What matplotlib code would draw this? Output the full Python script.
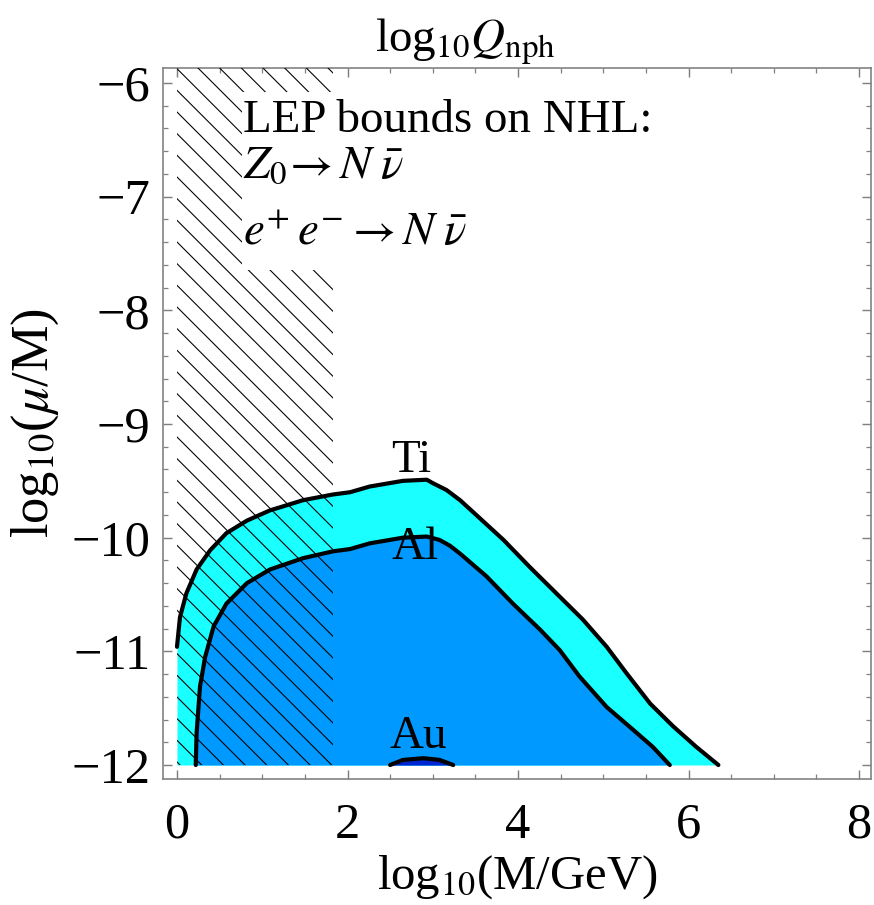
import numpy as np
import matplotlib
matplotlib.use("Agg")
import matplotlib.pyplot as plt
from matplotlib.patches import Rectangle

plt.rcParams['font.family'] = ['Liberation Serif', 'DejaVu Serif']
plt.rcParams['mathtext.fontset'] = 'stix'
plt.rcParams['hatch.linewidth'] = 0.6

# curves: log10(M/GeV) vs log10(mu/M)
ti_x = [0.0, 0.035, 0.11, 0.23, 0.39, 0.58, 0.82, 1.09, 1.48, 1.83, 2.03, 2.26, 2.65, 2.93,
        3.0, 3.16, 3.32, 3.51, 3.83, 4.14, 4.45, 4.76, 5.04, 5.27, 5.55, 5.82, 6.09, 6.35]
ti_y = [-10.96, -10.70, -10.49, -10.28, -10.11, -9.96, -9.85, -9.76, -9.67, -9.62, -9.60, -9.55, -9.50, -9.49,
        -9.52, -9.58, -9.67, -9.80, -10.02, -10.26, -10.49, -10.72, -10.96, -11.19, -11.46, -11.66, -11.84, -12.0]

al_x = [0.22, 0.23, 0.27, 0.33, 0.43, 0.58, 0.82, 1.09, 1.48, 1.83, 2.03, 2.26, 2.65, 2.93,
        3.08, 3.2, 3.32, 3.63, 3.94, 4.26, 4.49, 4.72, 5.04, 5.35, 5.58, 5.78]
al_y = [-12.0, -11.72, -11.31, -11.05, -10.78, -10.58, -10.40, -10.28, -10.18, -10.12, -10.10, -10.05, -10.00, -9.99,
        -10.02, -10.07, -10.14, -10.34, -10.58, -10.81, -10.99, -11.22, -11.49, -11.69, -11.84, -12.0]

au_x = [2.50, 2.65, 2.89, 3.08, 3.24]
au_y = [-12.0, -11.955, -11.94, -11.955, -12.0]

y_floor = -12.0
lep_x_max = 1.83  # LEP excluded region

lep_lines = ["LEP bounds on NHL:",
             "$Z_0\\!\\rightarrow N\\;\\bar{\\nu}$",
             "$e^{+}\\,e^{-}\\rightarrow N\\;\\bar{\\nu}$"]

DPI = 130
fig = plt.figure(figsize=(874 / DPI, 905 / DPI), dpi=DPI)
ax = fig.add_axes([163 / 874, 1 - 779 / 905, (871 - 163) / 874, (779 - 68) / 905])

ax.fill_between(ti_x, ti_y, y_floor, color='#1AFFFF', lw=0, zorder=1)
ax.fill_between(al_x, al_y, y_floor, color='#0099FF', lw=0, zorder=2)
ax.fill_between(au_x, au_y, y_floor, color='#0026D0', lw=0, zorder=3)

ax.fill_between([0, lep_x_max], y_floor, -5.0, facecolor='none', edgecolor='black',
                hatch='\\\\', lw=0, zorder=4)

for xs, ys in [(ti_x, ti_y), (al_x, al_y), (au_x, au_y)]:
    ax.plot(xs, ys, color='black', lw=2.3, zorder=6,
            solid_capstyle='round', solid_joinstyle='round')

# white backing behind the LEP note
ax.add_patch(Rectangle((0.762, -7.646), 1.5, 1.566, facecolor='white', edgecolor='none', zorder=5))
for txt, yb in zip(lep_lines, [-6.433, -6.83, -7.427]):
    ax.text(0.77, yb, txt, fontsize=26, va='baseline', ha='left', zorder=7)

ax.text(2.75, -9.32, "Ti", fontsize=26, ha='center', va='center', zorder=7)
ax.text(2.79, -10.09, "Al", fontsize=26, ha='center', va='center', zorder=7)
ax.text(2.83, -11.75, "Au", fontsize=26, ha='center', va='center', zorder=7)

ax.set_xlim(-0.164, 8.14)
ax.set_ylim(-12.123, -5.868)
ax.set_xticks([0, 2, 4, 6, 8])
ax.set_xticks(np.arange(0, 8.01, 0.5), minor=True)
ax.set_yticks([-12, -11, -10, -9, -8, -7, -6])
ax.set_yticks(np.arange(-12, -5.99, 0.2), minor=True)

for s in ax.spines.values():
    s.set_color('#808080')
    s.set_linewidth(0.9)
ax.tick_params(which='both', direction='in', top=True, right=True, colors='#808080',
               labelcolor='black', labelsize=28)
ax.tick_params(which='major', length=5, width=0.8)
ax.tick_params(which='minor', length=3, width=0.7)
ax.tick_params(axis='x', pad=13)
ax.tick_params(axis='y', pad=7)

ax.set_xlabel("log$_{10}$(M/GeV)", fontsize=27)
ax.xaxis.set_label_coords(0.5, -0.104)
ax.set_ylabel("log$_{10}$($\\mu$/M)", fontsize=29, labelpad=6)
fig.text(465 / 874, 1 - 42 / 905, "log$_{10}Q_{\\rm nph}$", fontsize=26, ha='center', va='center')

fig.savefig("out.png", dpi=DPI)
